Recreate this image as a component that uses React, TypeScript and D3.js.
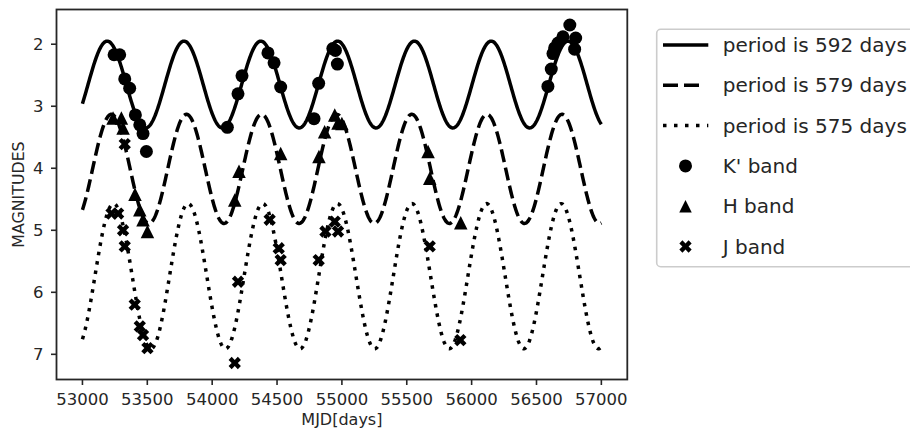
import React from "react";
import * as d3 from "d3";

// K' band observations (MJD, magnitude)
const kDays = [53244, 53287, 53326, 53364, 53408, 53442, 53467, 53493, 54117, 54199, 54230, 54430, 54477, 54528, 54785, 54821, 54930, 54950, 54965, 56588, 56614, 56627, 56640, 56666, 56704, 56757, 56794, 56802];
const kMags = [2.17, 2.17, 2.56, 2.71, 3.14, 3.30, 3.44, 3.73, 3.34, 2.80, 2.51, 2.14, 2.30, 2.69, 3.20, 2.63, 2.07, 2.10, 2.32, 2.68, 2.40, 2.15, 2.06, 1.98, 1.88, 1.69, 2.08, 1.90];

// H band
const hDays = [53236, 53300, 53313, 53405, 53442, 53467, 53501, 54174, 54207, 54528, 54823, 54867, 54945, 54970, 55000, 55664, 55677, 55916];
const hMags = [3.19, 3.19, 3.35, 4.42, 4.67, 4.83, 5.02, 4.51, 4.05, 3.76, 3.81, 3.41, 3.14, 3.27, 3.28, 3.73, 4.16, 4.88];

// J band
const jDays = [53224, 53275, 53313, 53326, 53326, 53403, 53442, 53467, 53501, 54174, 54199, 54443, 54513, 54528, 54821, 54873, 54945, 54970, 55677, 55913];
const jMags = [4.73, 4.73, 5.00, 5.26, 3.61, 6.20, 6.55, 6.69, 6.90, 7.14, 5.83, 4.83, 5.29, 5.48, 5.48, 5.02, 4.86, 5.02, 5.26, 6.77];

// fitted sinusoids
const periods = [592, 579, 575];
const peakDays = [53191, 53223, 53240];
const meanMags = [2.65, 4.01, 5.74];
const amps = [0.70, 0.88, 1.17];
const dashes = ["none", "13,5.6", "3.5,6"];

const xTicks = [53000, 53500, 54000, 54500, 55000, 55500, 56000, 56500, 57000];
const yTicks = [2, 3, 4, 5, 6, 7];

const legendLabels = ["period is 592 days", "period is 579 days", "period is 575 days", "K' band", "H band", "J band"];

const W = 910, H = 437;
const L = 56.5, R = 627.3, T = 9.5, B = 379.5;
const ink = "#262626";
const font = "DejaVu Sans";

const xs = d3.scaleLinear().domain([52800, 57200]).range([L, R]);
const ys = d3.scaleLinear().domain([1.44, 7.406]).range([T, B]);

const tri = (s: number) => `M0,${-s / 2}L${s / 2},${s / 2}L${-s / 2},${s / 2}Z`;
const cross = d3.symbol(d3.symbolCross, 95)();

const App = () => {
  const days = d3.range(53000, 57001, 4);

  const curves = periods.map((p, k) =>
    d3.line<number>()
      .x(t => xs(t))
      .y(t => ys(meanMags[k] - amps[k] * Math.cos(2 * Math.PI * (t - peakDays[k]) / p)))(days)
  );

  const legendY = (i: number) => 45 + i * 40.3;

  return (
    <div style={{ position: "fixed", left: 0, top: 0 }}>
      <svg width={W} height={H} style={{ display: "block", background: "#fff" }} fontFamily={font}>
        {curves.map((d, k) => (
          <path key={k} d={d || ""} fill="none" stroke="#000" strokeWidth={3.5}
            strokeDasharray={dashes[k]} />
        ))}
        {kDays.map((t, i) => (
          <circle key={"k" + i} cx={xs(t)} cy={ys(kMags[i])} r={6.5} fill="#000" />
        ))}
        {hDays.map((t, i) => (
          <path key={"h" + i} d={tri(13.5)} transform={`translate(${xs(t)},${ys(hMags[i])})`} fill="#000" />
        ))}
        {jDays.map((t, i) => (
          <path key={"j" + i} d={cross || ""} transform={`translate(${xs(t)},${ys(jMags[i])}) rotate(45)`} fill="#000" />
        ))}

        <rect x={L} y={T} width={R - L} height={B - T} fill="none" stroke={ink} strokeWidth={1.8} />

        {xTicks.map(t => (
          <g key={t} transform={`translate(${xs(t)},${B})`}>
            <line y2={5.5} stroke={ink} strokeWidth={1.6} />
            <text y={25} textAnchor="middle" fontSize={16.5} fill={ink}>{t}</text>
          </g>
        ))}
        {yTicks.map(v => (
          <g key={v} transform={`translate(${L},${ys(v)})`}>
            <line x2={-5.5} stroke={ink} strokeWidth={1.6} />
            <text x={-13} dy="0.36em" textAnchor="end" fontSize={16.5} fill={ink}>{v}</text>
          </g>
        ))}
        <text x={(L + R) / 2} y={425} textAnchor="middle" fontSize={16} fill={ink}>MJD[days]</text>
        <text transform={`translate(23.5,${(T + B) / 2}) rotate(-90)`} textAnchor="middle" fontSize={15.8} fill={ink}>MAGNITUDES</text>

        <rect x={656.7} y={29.3} width={280} height={237.4} rx={4} fill="#fff" fillOpacity={0.8} stroke="#cccccc" strokeWidth={1.6} />
        {legendLabels.map((lab, i) => {
          const y = legendY(i);
          return (
            <g key={lab}>
              {i < 3 && (
                <line x1={663} x2={i === 1 ? 700 : 708.3} y1={y} y2={y} stroke="#000" strokeWidth={3.5}
                  strokeDasharray={i === 0 ? "none" : i === 1 ? "15,6" : "3.5,7.5"} />
              )}
              {i === 3 && <circle cx={685.5} cy={y} r={6.5} fill="#000" />}
              {i === 4 && <path d={tri(12.5)} transform={`translate(685.5,${y})`} fill="#000" />}
              {i === 5 && <path d={cross || ""} transform={`translate(685.5,${y}) rotate(45)`} fill="#000" />}
              <text x={722.7} y={y + 7} fontSize={20} fill={ink}>{lab}</text>
            </g>
          );
        })}
      </svg>
    </div>
  );
};

export default App;
